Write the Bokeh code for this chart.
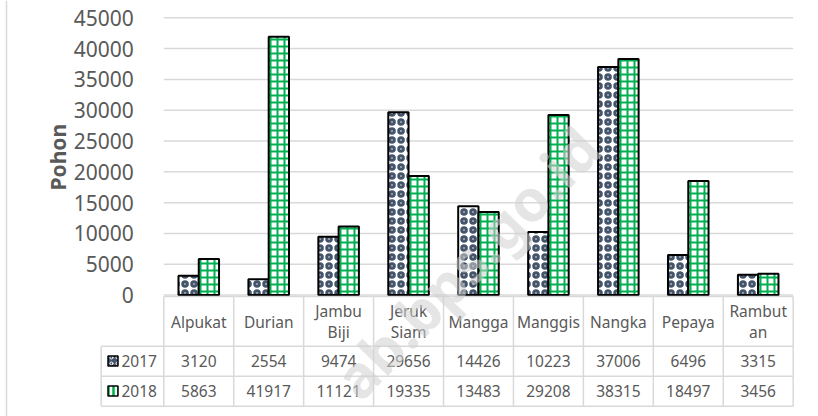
import math
from bokeh.plotting import figure
from bokeh.models import Range1d, Label
from bokeh.embed import file_html
from bokeh.resources import INLINE
from bokeh.core.properties import value

# ---------------- data ----------------
categories = ["Alpukat", "Durian", "Jambu\nBiji", "Jeruk\nSiam", "Mangga",
              "Manggis", "Nangka", "Pepaya", "Rambut\nan"]
series = ["2017", "2018"]
v2017 = [3120, 2554, 9474, 29656, 14426, 10223, 37006, 6496, 3315]
v2018 = [5863, 41917, 11121, 19335, 13483, 29208, 38315, 18497, 3456]
y_ticks = [0, 5000, 10000, 15000, 20000, 25000, 30000, 35000, 40000, 45000]
y_title = "Pohon"
watermark = "ab.bps.go.id"

# ---------------- style / layout ----------------
TEXT = "#595959"
GRID = "#d9d9d9"
NAVY = "#44546A"
GREEN = "#00B050"
FONT = "Noto Sans"
W, H = 818, 416
n = len(categories)
BAR_W = 0.29
COL_PX = 69.93      # px per category column
X0 = 163.3          # px position of the first column's left edge
BASE = 294.6        # px position of the zero line
U = 45000 / 277.3   # data units per px (vertical)


def px_x(px):
    return (px - X0) / COL_PX


xs = [i + 0.5 for i in range(n)]

p = figure(width=W, height=H,
           x_range=Range1d(px_x(0), px_x(W)),
           y_range=Range1d(-(H - BASE) * U, BASE * U),
           output_backend="svg", toolbar_location=None,
           x_axis_location=None, title=None)
p.extra_y_ranges = {"tbl": Range1d(-(H - BASE), BASE)}
p.min_border = 0
p.min_border_left = 0
p.min_border_right = 0
p.min_border_top = 0
p.min_border_bottom = 0
p.outline_line_color = None
p.grid.visible = False

# y axis, pinned to the left edge of the category area
p.yaxis.fixed_location = 0
p.yaxis.ticker = y_ticks
p.yaxis.axis_line_color = None
p.yaxis.major_tick_line_color = None
p.yaxis.minor_tick_line_color = None
p.yaxis.major_label_standoff = 24
p.yaxis.major_label_text_font = FONT
p.yaxis.major_label_text_font_size = "21px"
p.yaxis.major_label_text_color = TEXT

# outer left border of the chart box
p.segment(x0=[px_x(6)], x1=[px_x(6)], y0=[-(H - BASE)], y1=[BASE],
          line_color=GRID, line_width=1.5, y_range_name="tbl")

# gridlines of the chart area
p.segment(x0=[0] * len(y_ticks), x1=[n] * len(y_ticks), y0=y_ticks, y1=y_ticks,
          line_color=GRID, line_width=1.5)

# bars
p.vbar(x=[x - BAR_W / 2 for x in xs], top=v2017, width=BAR_W,
       fill_color="white", line_color="black", line_width=2,
       hatch_pattern="o", hatch_color=NAVY, hatch_scale=9, hatch_weight=3)
p.vbar(x=[x + BAR_W / 2 for x in xs], top=v2018, width=BAR_W,
       fill_color="white", line_color="black", line_width=2,
       hatch_pattern="+", hatch_color=GREEN, hatch_scale=7, hatch_weight=2)

# ---------------- data table ----------------
left = px_x(100.7)
row_lines_y = [-51.1, -81.1, -111.1]
p.segment(x0=[0] + [left] * 3, x1=[n] * 4, y0=[-1.4] + row_lines_y,
          y1=[-1.4] + row_lines_y, line_color=GRID, line_width=1.5,
          y_range_name="tbl")
p.segment(x0=list(range(n + 1)) + [left], x1=list(range(n + 1)) + [left],
          y0=[-1.4] * (n + 1) + [-51.1], y1=[-111.1] * (n + 2),
          line_color=GRID, line_width=1.5, y_range_name="tbl")

txt = dict(text_align="center", text_baseline="middle", text_font=value(FONT),
           text_font_size="15.5px", text_color=TEXT, y_range_name="tbl")
p.text(x=xs, y=[-26.4] * n, text=categories, text_line_height=0.95, **txt)
p.text(x=xs, y=[-65.9] * n, text=[str(v) for v in v2017], **txt)
p.text(x=xs, y=[-96] * n, text=[str(v) for v in v2018], **txt)

# legend keys
key_x = px_x(112.5)
p.rect(x=[key_x], y=[-65.9], width=10 / COL_PX, height=10, fill_color=NAVY,
       line_color="black", line_width=1.5, hatch_pattern="o",
       hatch_color="white", hatch_scale=6, hatch_weight=1, y_range_name="tbl")
p.rect(x=[key_x], y=[-96], width=10 / COL_PX, height=10, fill_color="white",
       line_color="black", line_width=1.5, hatch_pattern="|",
       hatch_color=GREEN, hatch_scale=5, hatch_weight=2.5, y_range_name="tbl")
p.text(x=[px_x(121)] * 2, y=[-65.9, -96], text=series,
       text_align="left", text_baseline="middle", text_font=value(FONT),
       text_font_size="15.5px", text_color=TEXT, y_range_name="tbl")

# axis title
p.add_layout(Label(x=px_x(57), y=BASE - 156.7, y_range_name="tbl",
                   text=y_title, angle=math.pi / 2, text_align="center",
                   text_baseline="middle", text_font=FONT,
                   text_font_style="bold", text_font_size="21px",
                   text_color=TEXT))

# watermark
p.add_layout(Label(x=px_x(466), y=BASE - 262, y_range_name="tbl",
                   text=watermark, angle=0.80, text_align="center",
                   text_baseline="middle", text_font=FONT,
                   text_font_style="bold", text_font_size="58px",
                   text_color="#d0d0d0", text_alpha=0.55))

open("out.html", "w").write(file_html(p, INLINE))
